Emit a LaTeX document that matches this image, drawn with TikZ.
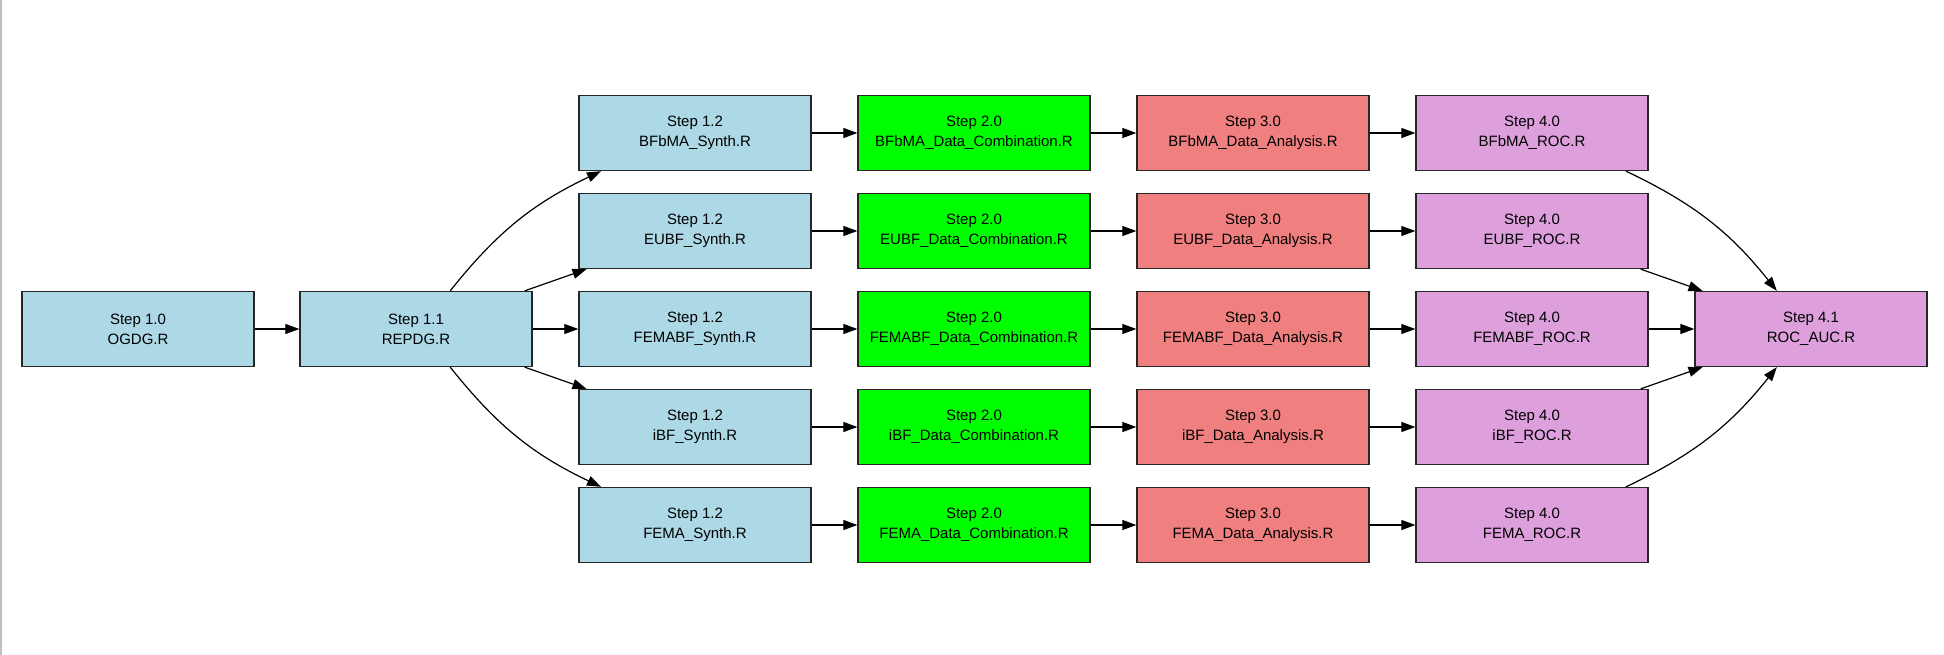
\documentclass[tikz,border=0pt]{standalone}
\usepackage{fontspec}
\setmainfont{Liberation Sans}
\usepackage{tikz}
\usetikzlibrary{arrows.meta}

\definecolor{synthblue}{HTML}{ADD8E6}
\definecolor{combgreen}{HTML}{00FF00}
\definecolor{anacoral}{HTML}{F08080}
\definecolor{rocplum}{HTML}{DDA0DD}

\begin{document}
\begin{tikzpicture}[x=1pt, y=-1pt,
    every node/.style={font=\fontsize{15}{20}\selectfont},
    stepbox/.style={draw=black!85, line width=1.3pt, minimum width=232pt, minimum height=75pt, align=center, inner sep=0pt},
    flow/.style={-{Triangle[length=14pt,width=10pt]}, line width=1.2pt}]
        \useasboundingbox[fill=white] (0,0) rectangle (1944,655);
        \draw[black!25, line width=1.5pt] (1,0) -- (1,655);

        % Step 1.0 and 1.1: data generation
        \node[stepbox, fill=synthblue] (ogdg) at (138,329) {Step 1.0\\OGDG.R};
        \node[stepbox, fill=synthblue] (repdg) at (416,329) {Step 1.1\\REPDG.R};

        % Step 1.2: synthesis
        \node[stepbox, fill=synthblue] (bfbmasyn) at (695,133) {Step 1.2\\BFbMA\_Synth.R};
        \node[stepbox, fill=synthblue] (eubfsyn) at (695,231) {Step 1.2\\EUBF\_Synth.R};
        \node[stepbox, fill=synthblue] (femabfsyn) at (695,329) {Step 1.2\\FEMABF\_Synth.R};
        \node[stepbox, fill=synthblue] (ibfsyn) at (695,427) {Step 1.2\\iBF\_Synth.R};
        \node[stepbox, fill=synthblue] (femasyn) at (695,525) {Step 1.2\\FEMA\_Synth.R};

        % Step 2.0: data combination
        \node[stepbox, fill=combgreen] (bfbmacomb) at (974,133) {Step 2.0\\BFbMA\_Data\_Combination.R};
        \node[stepbox, fill=combgreen] (eubfcomb) at (974,231) {Step 2.0\\EUBF\_Data\_Combination.R};
        \node[stepbox, fill=combgreen] (femabfcomb) at (974,329) {Step 2.0\\FEMABF\_Data\_Combination.R};
        \node[stepbox, fill=combgreen] (ibfcomb) at (974,427) {Step 2.0\\iBF\_Data\_Combination.R};
        \node[stepbox, fill=combgreen] (femacomb) at (974,525) {Step 2.0\\FEMA\_Data\_Combination.R};

        % Step 3.0: data analysis
        \node[stepbox, fill=anacoral] (bfbmaana) at (1253,133) {Step 3.0\\BFbMA\_Data\_Analysis.R};
        \node[stepbox, fill=anacoral] (eubfana) at (1253,231) {Step 3.0\\EUBF\_Data\_Analysis.R};
        \node[stepbox, fill=anacoral] (femabfana) at (1253,329) {Step 3.0\\FEMABF\_Data\_Analysis.R};
        \node[stepbox, fill=anacoral] (ibfana) at (1253,427) {Step 3.0\\iBF\_Data\_Analysis.R};
        \node[stepbox, fill=anacoral] (femaana) at (1253,525) {Step 3.0\\FEMA\_Data\_Analysis.R};

        % Step 4.0: ROC per method
        \node[stepbox, fill=rocplum] (bfbmaroc) at (1532,133) {Step 4.0\\BFbMA\_ROC.R};
        \node[stepbox, fill=rocplum] (eubfroc) at (1532,231) {Step 4.0\\EUBF\_ROC.R};
        \node[stepbox, fill=rocplum] (femabfroc) at (1532,329) {Step 4.0\\FEMABF\_ROC.R};
        \node[stepbox, fill=rocplum] (ibfroc) at (1532,427) {Step 4.0\\iBF\_ROC.R};
        \node[stepbox, fill=rocplum] (femaroc) at (1532,525) {Step 4.0\\FEMA\_ROC.R};

        % Step 4.1: combined ROC/AUC
        \node[stepbox, fill=rocplum] (rocauc) at (1811,329) {Step 4.1\\ROC\_AUC.R};

        % Connectors
        \draw[flow] (ogdg) -- (repdg);
        \draw[flow] (repdg) to[bend left=13] (bfbmasyn);
        \draw[flow] (repdg) -- (eubfsyn);
        \draw[flow] (repdg) -- (femabfsyn);
        \draw[flow] (repdg) -- (ibfsyn);
        \draw[flow] (repdg) to[bend right=13] (femasyn);

        \draw[flow] (bfbmasyn) -- (bfbmacomb);
        \draw[flow] (eubfsyn) -- (eubfcomb);
        \draw[flow] (femabfsyn) -- (femabfcomb);
        \draw[flow] (ibfsyn) -- (ibfcomb);
        \draw[flow] (femasyn) -- (femacomb);

        \draw[flow] (bfbmacomb) -- (bfbmaana);
        \draw[flow] (eubfcomb) -- (eubfana);
        \draw[flow] (femabfcomb) -- (femabfana);
        \draw[flow] (ibfcomb) -- (ibfana);
        \draw[flow] (femacomb) -- (femaana);

        \draw[flow] (bfbmaana) -- (bfbmaroc);
        \draw[flow] (eubfana) -- (eubfroc);
        \draw[flow] (femabfana) -- (femabfroc);
        \draw[flow] (ibfana) -- (ibfroc);
        \draw[flow] (femaana) -- (femaroc);

        \draw[flow] (bfbmaroc) to[bend left=13] (rocauc);
        \draw[flow] (eubfroc) -- (rocauc);
        \draw[flow] (femabfroc) -- (rocauc);
        \draw[flow] (ibfroc) -- (rocauc);
        \draw[flow] (femaroc) to[bend right=13] (rocauc);
    \end{tikzpicture}
\end{document}
